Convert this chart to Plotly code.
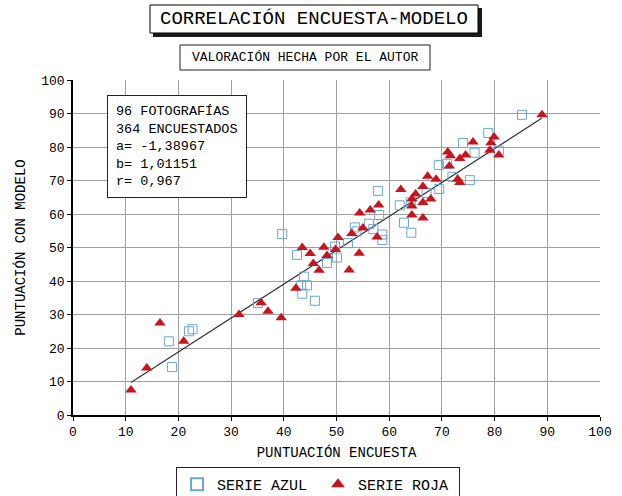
import plotly.graph_objects as go

# ---- data ----
blue_x = [18.2, 18.8, 22.0, 22.7, 35.1, 39.7, 42.5, 43.8, 43.3, 44.4, 43.5, 45.9,
          48.2, 50.1, 49.7, 52.2, 53.5, 53.8, 56.2, 57.0, 57.9, 58.1, 58.7, 58.7,
          62.0, 62.8, 64.2, 64.1, 67.1, 69.5, 69.4, 71.0, 74.0, 76.2, 72.0, 75.3,
          78.8, 80.8, 85.2]
blue_y = [22.0, 14.3, 25.0, 25.6, 33.4, 54.0, 47.8, 41.3, 38.7, 38.7, 36.2, 34.1,
          45.4, 47.0, 50.3, 51.3, 56.0, 54.8, 57.1, 55.5, 66.9, 59.7, 53.9, 52.2,
          62.6, 57.4, 54.4, 63.5, 66.3, 67.5, 74.6, 75.0, 81.2, 78.3, 71.1, 70.1,
          84.2, 78.9, 89.6]

red_x = [11.0, 14.0, 16.5, 21.0, 31.5, 35.7, 37.0, 39.5, 42.3, 43.5, 45.0, 45.6,
         46.7, 47.6, 48.2, 49.8, 50.3, 52.4, 54.3, 52.9, 55.0, 54.4, 56.4, 58.0,
         57.7, 62.2, 64.3, 65.0, 66.4, 64.3, 66.4, 67.9, 64.3, 66.4, 67.3, 68.9,
         71.1, 71.6, 71.4, 73.4, 74.5, 73.0, 73.4, 75.9, 79.1, 79.3, 79.9, 80.8,
         89.0]
red_y = [7.5, 14.0, 27.5, 22.0, 30.0, 33.5, 31.0, 29.0, 37.8, 50.0, 48.2, 45.2,
         43.2, 50.1, 47.6, 49.4, 53.0, 43.3, 48.3, 54.2, 55.8, 60.3, 61.2, 62.7,
         53.1, 67.3, 64.5, 66.0, 68.2, 62.4, 63.4, 64.5, 59.7, 58.8, 71.3, 70.4,
         78.5, 77.4, 74.3, 76.6, 77.6, 70.4, 69.4, 81.5, 79.0, 81.3, 83.0, 77.6,
         89.6]

a_coef = -1.38967
b_coef = 1.01151
r_coef = 0.967
n_photos = 96
n_people = 364

x_ticks = [0, 10, 20, 30, 40, 50, 60, 70, 80, 90, 100]
y_ticks = [0, 10, 20, 30, 40, 50, 60, 70, 80, 90, 100]

title_text = "CORRELACIÓN ENCUESTA-MODELO"
subtitle_text = "VALORACIÓN HECHA POR EL AUTOR"
x_title = "PUNTUACIÓN ENCUESTA"
y_title = "PUNTUACIÓN CON MODELO"
blue_name = "SERIE AZUL"
red_name = "SERIE ROJA"

FONT = "Liberation Mono, Courier New, monospace"

# regression line from the printed coefficients
all_x = blue_x + red_x
line_x = [min(all_x), max(all_x)]
line_y = [a_coef + b_coef * v for v in line_x]

fig = go.Figure()
fig.add_trace(go.Scatter(
    x=line_x, y=line_y, mode="lines", showlegend=False, hoverinfo="skip",
    line=dict(color="#333333", width=1.2)))
fig.add_trace(go.Scatter(
    x=blue_x, y=blue_y, mode="markers", name=blue_name,
    marker=dict(symbol="square-open", size=9, color="#6aa6d6",
                line=dict(width=1, color="#6aa6d6"))))
fig.add_trace(go.Scatter(
    x=red_x, y=red_y, mode="markers", name=red_name,
    marker=dict(symbol="triangle-up", size=10, color="#c8141c",
                line=dict(width=0))))

# plot-area pixel geometry: x 73..600, y 80..415
W, H = 622, 496
L, R, T, B = 73, 22, 80, 81
PW, PH = W - L - R, H - T - B


def px(xp):
    return (xp - L) / PW


def py(yp):
    return (H - B - yp) / PH


shapes = [
    # title shadow + box
    dict(type="rect", xref="paper", yref="paper", x0=px(153), x1=px(482),
         y0=py(37), y1=py(8), fillcolor="#1a1a1a", line=dict(width=0), layer="above"),
    dict(type="rect", xref="paper", yref="paper", x0=px(150), x1=px(478),
         y0=py(33), y1=py(5), fillcolor="white", line=dict(color="black", width=1),
         layer="above"),
    # subtitle box
    dict(type="rect", xref="paper", yref="paper", x0=px(180), x1=px(430),
         y0=py(70), y1=py(45), fillcolor="white", line=dict(color="#222", width=1),
         layer="above"),
]

stats = "<br>".join([
    f"{n_photos} FOTOGRAFÍAS",
    f"{n_people} ENCUESTADOS",
    f"a= {a_coef:.5f}".replace(".", ","),
    f"b= {b_coef:.5f}".replace(".", ","),
    f"r= {r_coef:.3f}".replace(".", ","),
])

annotations = [
    dict(text=title_text, xref="paper", yref="paper", x=px(314), y=py(19),
         xanchor="center", yanchor="middle", showarrow=False,
         font=dict(family=FONT, size=19, color="black")),
    dict(text=subtitle_text, xref="paper", yref="paper", x=px(305), y=py(57.5),
         xanchor="center", yanchor="middle", showarrow=False,
         font=dict(family=FONT, size=13, color="black")),
    dict(text=stats, xref="paper", yref="paper", x=px(107), y=py(95),
         xanchor="left", yanchor="top", align="left", showarrow=False,
         bgcolor="white", bordercolor="#222", borderwidth=1, borderpad=8,
         font=dict(family=FONT, size=13.5, color="black")),
]

fig.update_layout(
    width=W, height=H, autosize=False,
    margin=dict(l=L, r=R, t=T, b=B, pad=0, autoexpand=False),
    paper_bgcolor="white", plot_bgcolor="white",
    font=dict(family=FONT, size=13, color="black"),
    shapes=shapes, annotations=annotations,
    showlegend=True,
    legend=dict(orientation="h", x=318 / W, xanchor="center", xref="container",
                y=(H - 467) / H, yanchor="top", yref="container",
                bordercolor="#222", borderwidth=1,
                bgcolor="white", entrywidth=96, entrywidthmode="pixels",
                font=dict(family=FONT, size=15, color="black"),
                itemsizing="constant"),
)

fig.update_xaxes(
    range=[0, 100], tickvals=x_ticks, ticktext=[str(v) for v in x_ticks],
    showgrid=True, gridcolor="#a0a0a0", gridwidth=1, zeroline=False,
    showline=True, linecolor="black", linewidth=1.5, automargin=False,
    ticks="outside", ticklen=4, tickcolor="black",
    tickfont=dict(family=FONT, size=13),
    title=dict(text=x_title, font=dict(family=FONT, size=14), standoff=8))
fig.update_yaxes(
    range=[0, 100], tickvals=y_ticks, ticktext=[str(v) for v in y_ticks],
    showgrid=True, gridcolor="#a0a0a0", gridwidth=1, zeroline=False,
    showline=True, linecolor="black", linewidth=1.5, automargin=False,
    ticks="outside", ticklen=4, tickcolor="black",
    tickfont=dict(family=FONT, size=13),
    title=dict(text=y_title, font=dict(family=FONT, size=14), standoff=12))

# remove the browser's default 8px body margin so the figure sits at the page origin
fig.write_html("out.html",
               config={"displayModeBar": False},
               post_script="document.body.style.margin='0';document.body.style.overflow='hidden';")
